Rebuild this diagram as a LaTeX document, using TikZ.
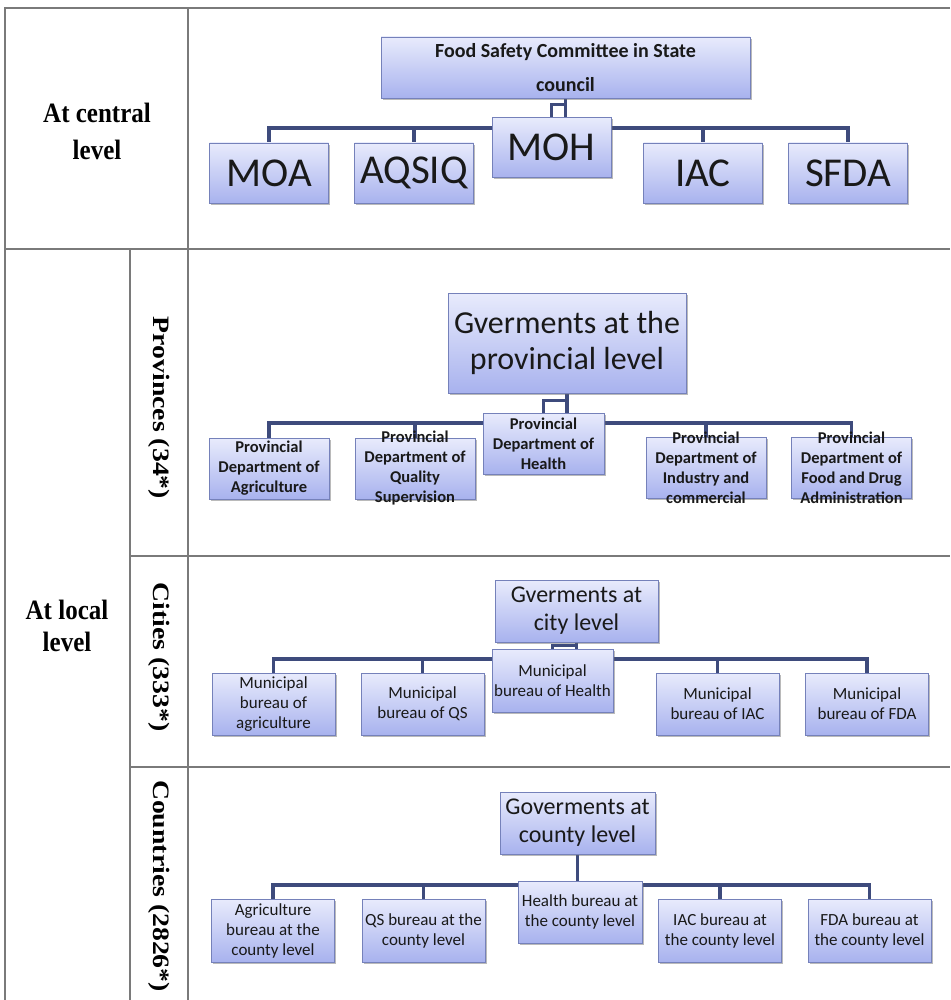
\documentclass[tikz,border=0pt]{standalone}
\usepackage{fontspec}
\setmainfont{Carlito}
\newfontfamily\tnr{Liberation Serif}
\usetikzlibrary{shadows}
\definecolor{bxtop}{HTML}{E8EBFC}
\definecolor{bxbot}{HTML}{A8B2EE}
\definecolor{bxline}{HTML}{7581BA}
\definecolor{conn}{HTML}{3E4B7C}
\definecolor{gridc}{HTML}{7A7A7A}
\pgfdeclarelayer{bg}
\pgfsetlayers{bg,main}
\begin{document}
\begin{tikzpicture}[x=1pt,y=-1pt,
  bx/.style={draw=bxline, line width=0.7pt, top color=bxtop, bottom color=bxbot,
    drop shadow={shadow xshift=1.5pt, shadow yshift=-2pt, fill=black!60, opacity=0.45},
    inner sep=0pt, align=center, text=black!90},
  cbox/.style={minimum width=119, minimum height=60, font=\fontsize{41}{44}\selectfont},
  pbox/.style={minimum width=120, minimum height=61, inner ysep=-8pt, font=\fontsize{16.5}{20}\selectfont\bfseries},
  sbox/.style={minimum width=123, minimum height=62, font=\fontsize{17}{20}\selectfont},
  cn/.style={draw=conn, line width=3.6pt},
  gl/.style={draw=gridc, line width=1.6pt},
  lt/.style={font=\tnr\bfseries\fontsize{25}{33}\selectfont, align=center, inner sep=0pt, text=black}
]
\useasboundingbox (0,0) rectangle (950,1000);

% ---------- table ----------
\coordinate (tl) at (5,8);
\coordinate (tr) at (950,8);
\coordinate (bl) at (5,1000);
\coordinate (c1t) at (188,8);
\coordinate (c1b) at (188,1000);
\coordinate (r1l) at (5,249);
\coordinate (r1r) at (950,249);
\coordinate (c0t) at (130,249);
\coordinate (c0b) at (130,1000);
\coordinate (r2l) at (130,556);
\coordinate (r2r) at (950,556);
\coordinate (r3l) at (130,767);
\coordinate (r3r) at (950,767);
\draw[gl, line width=2pt] (tr) -- (tl) -- (bl);
\draw[gl] (c1t) -- (c1b);
\draw[gl] (r1l) -- (r1r);
\draw[gl] (c0t) -- (c0b);
\draw[gl] (r2l) -- (r2r);
\draw[gl] (r3l) -- (r3r);

% ---------- left labels ----------
\node[lt, yscale=1.12] (lcent) at (97,131) {At central\\level};
\node[lt, yscale=1.12, font=\tnr\bfseries\fontsize{25}{28}\selectfont] (lloc) at (67,626) {At local\\level};
\node[lt, rotate=-90, xscale=1.18, font=\tnr\bfseries\fontsize{23.5}{28}\selectfont] (lprov) at (159,408) {Provinces (34*)};
\node[lt, rotate=-90, xscale=1.18, font=\tnr\bfseries\fontsize{23.5}{28}\selectfont] (lcity) at (159,657) {Cities (333*)};
\node[lt, rotate=-90, xscale=1.18, font=\tnr\bfseries\fontsize{23.5}{28}\selectfont] (lcnty) at (159,886) {Countries (2826*)};

% ---------- central ----------
\node[bx, minimum width=369, minimum height=61, font=\fontsize{20}{34}\selectfont\bfseries] (com) at (565.5,67.5) {Food Safety Committee in State\\council};
\node[bx, cbox] (moh) at (551.5,147.5) {MOH};
\node[bx, cbox] (moa) at (269,173) {MOA};
\node[bx, cbox] (aqsiq) at (414,173) {AQSIQ};
\node[bx, cbox] (iac) at (703,173) {IAC};
\node[bx, cbox] (sfda) at (848,173) {SFDA};
\coordinate (cb) at (0,128);
\begin{pgfonlayer}{bg}
\draw[cn] (moa.north) |- (sfda.north |- cb) -- (sfda.north);
\draw[cn] (aqsiq.north) -- (aqsiq.north |- cb);
\draw[cn] (iac.north) -- (iac.north |- cb);
\draw[cn] (com.south) -- (com.south |- cb);
\draw[cn, line width=3pt] ([yshift=-6pt]com.south) -| (moh.north);
\end{pgfonlayer}

% ---------- provinces ----------
\node[bx, minimum width=238, minimum height=100, font=\fontsize{32}{36}\selectfont] (pgov) at (567,343) {Gverments at the\\provincial level};
\node[bx, pbox, minimum width=121] (phl) at (543.5,443.5) {Provincial\\Department of\\Health};
\node[bx, pbox] (pagr) at (269,468.5) {Provincial\\Department of\\Agriculture};
\node[bx, pbox] (pqual) at (415,468.5) {Provincial\\Department of\\Quality\\Supervision};
\node[bx, pbox] (pind) at (706,467.5) {Provincial\\Department of\\Industry and\\commercial};
\node[bx, pbox] (pfda) at (851.5,467.5) {Provincial\\Department of\\Food and Drug\\Administration};
\coordinate (pb) at (0,423);
\begin{pgfonlayer}{bg}
\draw[cn] (pagr.north) |- (pfda.north |- pb) -- (pfda.north);
\draw[cn] (pqual.north) -- (pqual.north |- pb);
\draw[cn] (pind.north) -- (pind.north |- pb);
\draw[cn] (pgov.south) -- (pgov.south |- pb);
\draw[cn, line width=3pt] ([yshift=-7pt]pgov.south) -| (phl.north);
\end{pgfonlayer}

% ---------- cities ----------
\node[bx, minimum width=163, minimum height=62, font=\fontsize{24}{28}\selectfont] (cgov) at (576.5,611) {Gverments at\\city level};
\node[bx, sbox, minimum width=121, minimum height=63] (chl) at (552.5,680.5) {Municipal\\bureau of Health};
\node[bx, sbox] (cagr) at (273.5,704) {Municipal\\bureau of\\agriculture};
\node[bx, sbox] (cqs) at (422.5,704) {Municipal\\bureau of QS};
\node[bx, sbox] (ciac) at (717.5,704) {Municipal\\bureau of IAC};
\node[bx, sbox] (cfda) at (867,704) {Municipal\\bureau of FDA};
\coordinate (cib) at (0,659);
\begin{pgfonlayer}{bg}
\draw[cn] (cagr.north) |- (cfda.north |- cib) -- (cfda.north);
\draw[cn] (cqs.north) -- (cqs.north |- cib);
\draw[cn] (ciac.north) -- (ciac.north |- cib);
\draw[cn] (cgov.south) -- (cgov.south |- cib);
\draw[cn, line width=3pt] ([yshift=-3pt]cgov.south) -| (chl.north);
\end{pgfonlayer}

% ---------- counties ----------
\node[bx, minimum width=155, minimum height=62, font=\fontsize{24}{28}\selectfont] (ygov) at (577.5,823) {Goverments at\\county level};
\node[bx, sbox, minimum width=124] (yhl) at (580,912) {Health bureau at\\the county level};
\node[bx, sbox, minimum height=63] (yagr) at (273,930.5) {Agriculture\\bureau at the\\county level};
\node[bx, sbox, minimum height=63] (yqs) at (423.5,930.5) {QS bureau at the\\county level};
\node[bx, sbox, minimum height=63] (yiac) at (720,930.5) {IAC bureau at\\the county level};
\node[bx, sbox, minimum height=63] (yfda) at (869.5,930.5) {FDA bureau at\\the county level};
\coordinate (yb) at (0,885);
\begin{pgfonlayer}{bg}
\draw[cn] (yagr.north) |- (yfda.north |- yb) -- (yfda.north);
\draw[cn] (yqs.north) -- (yqs.north |- yb);
\draw[cn] (yiac.north) -- (yiac.north |- yb);
\draw[cn] (ygov.south) -- (ygov.south |- yb);
\end{pgfonlayer}
\end{tikzpicture}
\end{document}
